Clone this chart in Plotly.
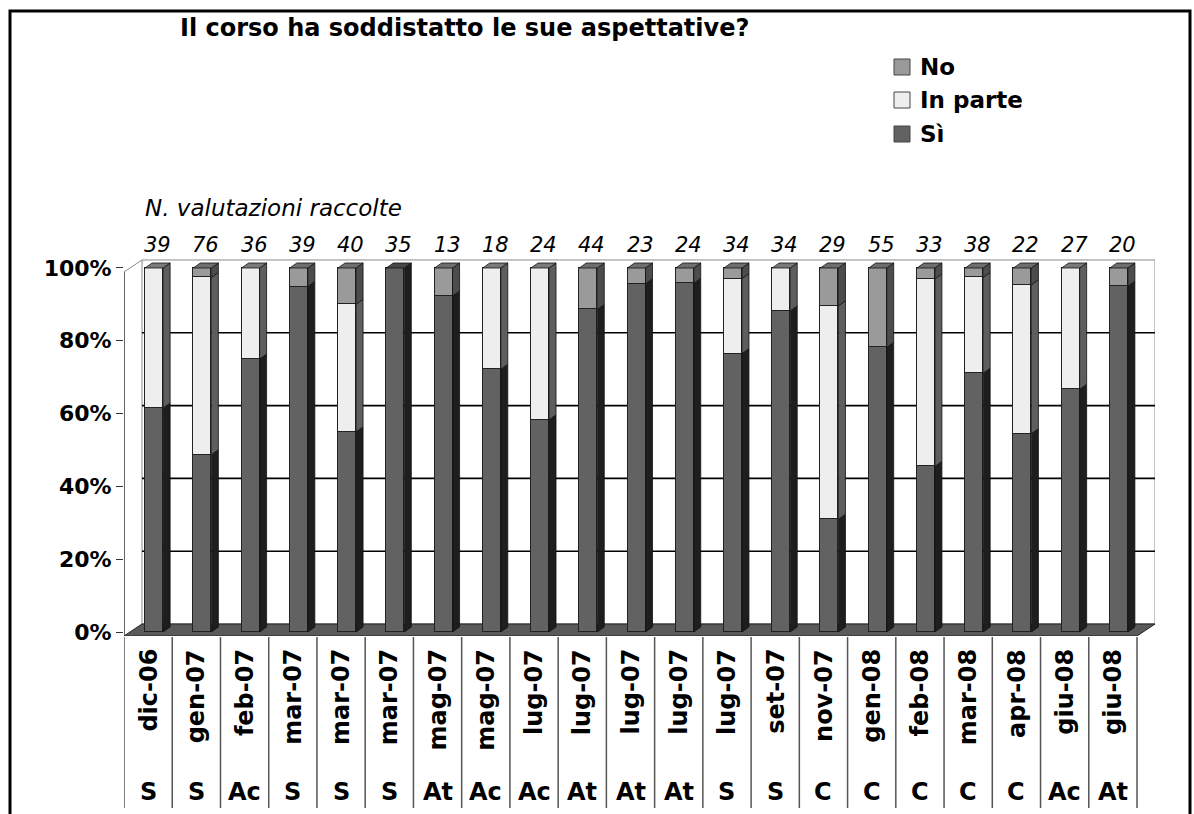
import plotly.graph_objects as go

# ---------------- data ----------------
months = ["dic-06", "gen-07", "feb-07", "mar-07", "mar-07", "mar-07", "mag-07",
          "mag-07", "lug-07", "lug-07", "lug-07", "lug-07", "lug-07", "set-07",
          "nov-07", "gen-08", "feb-08", "mar-08", "apr-08", "giu-08", "giu-08"]
groups = ["S", "S", "Ac", "S", "S", "S", "At", "Ac", "Ac", "At", "At", "At",
          "S", "S", "C", "C", "C", "C", "C", "Ac", "At"]
n_valutazioni = [39, 76, 36, 39, 40, 35, 13, 18, 24, 44, 23, 24, 34, 34, 29,
                 55, 33, 38, 22, 27, 20]
si = [61.5, 48.7, 75.0, 94.9, 55.0, 100.0, 92.3, 72.2, 58.3, 88.6, 95.7, 95.8,
      76.5, 88.2, 31.0, 78.2, 45.5, 71.1, 54.5, 66.7, 95.0]
in_parte = [38.5, 48.7, 25.0, 0.0, 35.0, 0.0, 0.0, 27.8, 41.7, 0.0, 0.0, 0.0,
            20.6, 11.8, 58.6, 0.0, 51.5, 26.3, 40.9, 33.3, 0.0]
no = [0.0, 2.6, 0.0, 5.1, 10.0, 0.0, 7.7, 0.0, 0.0, 11.4, 4.3, 4.2,
      2.9, 0.0, 10.4, 21.8, 3.0, 2.6, 4.6, 0.0, 5.0]
series_names = ["Sì", "In parte", "No"]
y_ticks = [0, 20, 40, 60, 80, 100]
y_ticktext = ["0%", "20%", "40%", "60%", "80%", "100%"]

title_text = "Il corso ha soddistatto le sue aspettative?"
count_title = "N. valutazioni raccolte"

# ---------------- styling / geometry ----------------
W, H = 1194, 814
ML, MR, MT, MB = 124, 39, 257, 178
PW = W - ML - MR
PH = H - MT - MB
XR = [-0.5, 20.873]
YR = [-1.1, 103.02]
PPX = PW / (XR[1] - XR[0])      # px per category
PPY = PH / (YR[1] - YR[0])      # px per percent

BAR_DX = 6 / PPX                # bar plane shift
BAR_W = 18 / PPX
SDX = 7 / PPX                   # bar depth
SDY = 5 / PPY
WALL_DX = 18 / PPX              # back wall shift from floor front
FLOOR_Y0 = -1.1
WALL_DY = 2.2                   # back wall y offset relative to bar plane

front_col = {"Sì": "#626262", "In parte": "#eeeeee", "No": "#9a9a9a"}
side_col = {"Sì": "#1e1e1e", "In parte": "#5e5e5e", "No": "#4c4c4c"}
top_col = {"Sì": "#474747", "In parte": "#7a7a7a", "No": "#6e6e6e"}
FONT = "DejaVu Sans"


def px_x(px):
    return (px - ML) / PW


def px_y(py):
    return (H - MB - py) / PH


values = {"Sì": si, "In parte": in_parte, "No": no}
ncat = len(months)
xs = [i + BAR_DX for i in range(ncat)]

fig = go.Figure()
for name in series_names:
    fig.add_trace(go.Bar(
        x=xs, y=[v if v > 0 else None for v in values[name]], name=name,
        width=BAR_W,
        marker=dict(color=front_col[name], line=dict(color="#222222", width=1)),
        showlegend=False, hoverinfo="skip"))

shapes = []
x_wall0 = XR[0] + WALL_DX
x_wall1 = XR[1]
# back wall
shapes.append(dict(type="rect", xref="x", yref="y", x0=x_wall0, x1=x_wall1,
                   y0=WALL_DY, y1=100 + WALL_DY, fillcolor="white",
                   line=dict(color="#8a8a8a", width=1), layer="below"))
# grid lines on the back wall
for t in y_ticks[1:-1]:
    shapes.append(dict(type="line", xref="x", yref="y", x0=x_wall0, x1=x_wall1,
                       y0=t + WALL_DY, y1=t + WALL_DY,
                       line=dict(color="#000000", width=1.6), layer="below"))
# left wall top edge
shapes.append(dict(type="line", xref="x", yref="y", x0=XR[0], x1=x_wall0,
                   y0=100 + FLOOR_Y0, y1=100 + WALL_DY,
                   line=dict(color="#8a8a8a", width=1), layer="below"))
# floor
shapes.append(dict(type="path", xref="x", yref="y",
                   path=f"M {XR[0]},{FLOOR_Y0} L {XR[1]-WALL_DX},{FLOOR_Y0} "
                        f"L {XR[1]},{WALL_DY} L {x_wall0},{WALL_DY} Z",
                   fillcolor="#5a5a5a", line=dict(color="#222222", width=1),
                   layer="below"))
# y axis line
shapes.append(dict(type="line", xref="x", yref="y", x0=XR[0], x1=XR[0],
                   y0=FLOOR_Y0, y1=100 + FLOOR_Y0,
                   line=dict(color="#333333", width=1.5), layer="above"))

# 3D faces of bars
for i in range(ncat):
    base = 0.0
    top_name = None
    xl = xs[i] - BAR_W / 2
    xr = xs[i] + BAR_W / 2
    for name in series_names:
        v = values[name][i]
        if v <= 0:
            continue
        t = base + v
        shapes.append(dict(
            type="path", xref="x", yref="y",
            path=f"M {xr},{base} L {xr+SDX},{base+SDY} L {xr+SDX},{t+SDY} L {xr},{t} Z",
            fillcolor=side_col[name], line=dict(color="#111111", width=0.8),
            layer="above"))
        base = t
        top_name = name
    shapes.append(dict(
        type="path", xref="x", yref="y",
        path=f"M {xl},{base} L {xr},{base} L {xr+SDX},{base+SDY} L {xl+SDX},{base+SDY} Z",
        fillcolor=top_col[top_name], line=dict(color="#111111", width=0.8),
        layer="above"))

# data table separators
for k in range(ncat + 1):
    shapes.append(dict(type="line", xref="x", yref="paper",
                       x0=k - 0.5, x1=k - 0.5, y0=px_y(637), y1=px_y(808),
                       line=dict(color="#555555", width=1.5)))

# outer frame
shapes.append(dict(type="rect", xref="paper", yref="paper",
                   x0=px_x(10), x1=px_x(1190), y0=px_y(822), y1=px_y(11),
                   line=dict(color="#000000", width=3), fillcolor="rgba(0,0,0,0)"))

# legend (manual)
legend_rows = [("No", 67), ("In parte", 100), ("Sì", 134)]
annotations = []
for name, yc in legend_rows:
    shapes.append(dict(type="rect", xref="paper", yref="paper",
                       x0=px_x(894), x1=px_x(910), y0=px_y(yc + 8), y1=px_y(yc - 8),
                       fillcolor=front_col[name], line=dict(color="#444444", width=1)))
    annotations.append(dict(xref="paper", yref="paper", x=px_x(918), y=px_y(yc),
                            xanchor="left", yanchor="middle", showarrow=False,
                            text=f"<b>{name}</b>",
                            font=dict(family=FONT, size=23, color="black")))

annotations.append(dict(xref="paper", yref="paper", x=px_x(178), y=px_y(28),
                        xanchor="left", yanchor="middle", showarrow=False,
                        text=f"<b>{title_text}</b>",
                        font=dict(family=FONT, size=24, color="black")))
annotations.append(dict(xref="paper", yref="paper", x=px_x(143), y=px_y(208),
                        xanchor="left", yanchor="middle", showarrow=False,
                        text=f"<i>{count_title}</i>",
                        font=dict(family=FONT, size=23, color="black")))
for i in range(ncat):
    annotations.append(dict(xref="x", yref="paper", x=xs[i] + SDX / 2, y=px_y(245),
                            xanchor="center", yanchor="middle", showarrow=False,
                            text=f"<i>{n_valutazioni[i]}</i>",
                            font=dict(family=FONT, size=21, color="black")))
    annotations.append(dict(xref="x", yref="paper", x=i, y=px_y(647),
                            xanchor="center", yanchor="top", showarrow=False,
                            textangle=-90, text=f"<b>{months[i]}</b>",
                            font=dict(family=FONT, size=24, color="black")))
    annotations.append(dict(xref="x", yref="paper", x=i, y=px_y(792),
                            xanchor="center", yanchor="middle", showarrow=False,
                            text=f"<b>{groups[i]}</b>",
                            font=dict(family=FONT, size=24, color="black")))

fig.update_layout(
    width=W, height=H,
    margin=dict(l=ML, r=MR, t=MT, b=MB, pad=0),
    paper_bgcolor="white", plot_bgcolor="white",
    barmode="stack", bargap=0,
    showlegend=False,
    xaxis=dict(range=XR, showgrid=False, zeroline=False, showline=False,
               showticklabels=False, ticks="", fixedrange=True),
    yaxis=dict(range=YR, showgrid=False, zeroline=False, showline=False,
               tickvals=y_ticks, ticktext=[f"<b>{t}</b>" for t in y_ticktext],
               ticks="outside", ticklen=7, tickcolor="#333333", tickwidth=1.2,
               tickfont=dict(family=FONT, size=22, color="black"),
               fixedrange=True),
    shapes=shapes,
    annotations=annotations,
)

fig.write_html("out.html", config={"displayModeBar": False},
               post_script="document.body.style.margin='0px';")
